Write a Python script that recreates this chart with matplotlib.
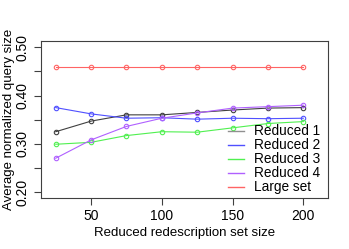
import matplotlib
matplotlib.use("Agg")
import matplotlib.pyplot as plt
from matplotlib.lines import Line2D

plt.rcParams['font.family'] = ['Liberation Sans', 'DejaVu Sans']

sizes = [25, 50, 75, 100, 125, 150, 175, 200]
reduced1 = [0.325, 0.347, 0.360, 0.360, 0.365, 0.370, 0.374, 0.375]
reduced2 = [0.375, 0.362, 0.353, 0.354, 0.351, 0.353, 0.352, 0.353]
reduced3 = [0.299, 0.303, 0.317, 0.325, 0.324, 0.333, 0.342, 0.346]
reduced4 = [0.270, 0.308, 0.336, 0.353, 0.364, 0.374, 0.377, 0.380]
large = [0.460] * 8
names = ["Reduced 1", "Reduced 2", "Reduced 3", "Reduced 4", "Large set"]
colors = ["#404040", "#5050ff", "#50f050", "#b060ff", "#ff6464"]
legend_colors = ["#909090", "#5050ff", "#50f050", "#b060ff", "#ff6464"]

fig = plt.figure(figsize=(3.49, 2.49), dpi=100)
ax = fig.add_axes([0.1175, 0.205, 0.8225, 0.63])

for ys, c in zip([reduced1, reduced2, reduced3, reduced4, large], colors):
  ax.plot(sizes, ys, color=c, lw=0.8, marker='o', ms=3.2, mfc='none', mew=0.8)

ax.set_xlim(14.6, 217.5)
ax.set_ylim(0.1876, 0.513)
ax.set_xticks([50, 100, 150, 200])
ax.set_yticks([0.20, 0.25, 0.30, 0.35, 0.40, 0.45, 0.50])
ax.set_yticklabels(["0.20", "", "0.30", "", "0.40", "", "0.50"], rotation=90, va='center')
ax.tick_params(labelsize=10, length=5, width=0.8, color='#404040', pad=3)
for s in ax.spines.values():
  s.set_color('#404040')
  s.set_linewidth(0.8)
ax.set_xlabel("Reduced redescription set size", fontsize=9.5, labelpad=3)
ax.set_ylabel("Average normalized query size", fontsize=9.5, labelpad=1)

handles = [Line2D([0], [0], color=c, lw=1) for c in legend_colors]
ax.legend(handles, names, loc='lower right', bbox_to_anchor=(1.0, -0.03),
          frameon=False, fontsize=9.8, handlelength=1.2, handletextpad=0.7,
          labelspacing=0.0, borderaxespad=0.2)

fig.savefig("out.png", dpi=100)
